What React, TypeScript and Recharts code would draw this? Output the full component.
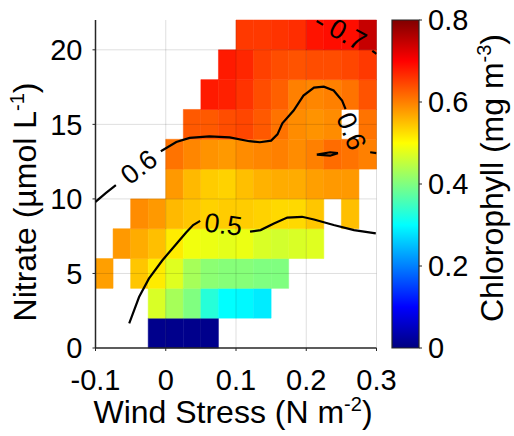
import React from 'react';
import { ComposedChart, Scatter, XAxis, YAxis, ReferenceArea, ReferenceLine } from 'recharts';

// left edges of the wind stress bins and bottom edges of the nitrate bins
const windBins = [-0.1, -0.075, -0.05, -0.025, 0, 0.025, 0.05, 0.075, 0.1, 0.125, 0.15, 0.175, 0.2, 0.225, 0.25, 0.275];
const nitrateBins = [0, 2, 4, 6, 8, 10, 12, 14, 16, 18, 20];
const binWidth = 0.025;
const binHeight = 2;

const _ = null;
// mean chlorophyll per cell, one row per nitrate bin (bottom to top)
const chlN0 = [_, _, _, 0.01, 0.01, 0.01, 0.01, _, _, _, _, _, _, _, _, _];
const chlN2 = [_, _, _, 0.47, 0.43, 0.4, 0.33, 0.3, 0.295, 0.285, _, _, _, _, _, _];
const chlN4 = [0.575, _, 0.545, 0.515, 0.475, 0.43, 0.41, 0.405, 0.405, 0.4, 0.4, _, _, _, _, _];
const chlN6 = [_, 0.58, 0.565, 0.55, 0.515, 0.49, 0.485, 0.48, 0.485, 0.47, 0.465, 0.47, 0.475, _, _, _];
const chlN8 = [_, _, 0.59, 0.58, 0.555, 0.545, 0.535, 0.54, 0.54, 0.535, 0.53, 0.53, 0.545, _, 0.55, _];
const chlN10 = [_, _, _, _, 0.58, 0.555, 0.54, 0.535, 0.55, 0.56, 0.565, 0.565, 0.575, 0.58, 0.58, _];
const chlN12 = [_, _, _, _, 0.61, 0.595, 0.585, 0.58, 0.59, 0.595, 0.6, 0.59, 0.6, 0.615, 0.61, 0.6];
const chlN14 = [_, _, _, _, _, 0.63, 0.63, 0.64, 0.645, 0.63, 0.61, 0.59, 0.585, 0.59, _, 0.61];
const chlN16 = [_, _, _, _, _, _, 0.68, 0.675, 0.66, 0.64, 0.625, 0.6, 0.595, 0.6, 0.61, 0.635];
const chlN18 = [_, _, _, _, _, _, _, 0.68, 0.67, 0.65, 0.64, 0.635, 0.64, 0.64, 0.645, 0.655];
const chlN20 = [_, _, _, _, _, _, _, _, 0.655, 0.655, 0.66, 0.665, 0.685, 0.69, 0.69, 0.745];
const chlorophyll = [chlN0, chlN2, chlN4, chlN6, chlN8, chlN10, chlN12, chlN14, chlN16, chlN18, chlN20];

// contour lines
const contour06Left = [{ x: -0.1, y: 9.8 }, { x: -0.085, y: 10.4 }, { x: -0.071, y: 10.93 }];
const contour06Main = [
  { x: -0.007, y: 13.2 }, { x: 0.015, y: 13.82 }, { x: 0.034, y: 14.09 }, { x: 0.062, y: 14.2 },
  { x: 0.091, y: 14.13 }, { x: 0.119, y: 13.87 }, { x: 0.134, y: 13.8 }, { x: 0.15, y: 13.91 },
  { x: 0.159, y: 14.33 }, { x: 0.166, y: 15.07 }, { x: 0.182, y: 15.93 }, { x: 0.196, y: 16.93 },
  { x: 0.211, y: 17.47 }, { x: 0.225, y: 17.53 }, { x: 0.239, y: 17.27 }, { x: 0.251, y: 16.6 },
  { x: 0.256, y: 16.02 },
];
const contour06Right = [{ x: 0.291, y: 13.13 }, { x: 0.3, y: 13.07 }];
const contour06Loop = [
  { x: 0.215, y: 12.97 }, { x: 0.234, y: 13.13 }, { x: 0.245, y: 13.07 }, { x: 0.234, y: 12.9 }, { x: 0.215, y: 12.97 },
];
const contour07Left = [{ x: 0.215, y: 21.93 }, { x: 0.224, y: 21.67 }];
const contour07Right = [{ x: 0.294, y: 19.93 }, { x: 0.3, y: 19.73 }];
const contour05Left = [
  { x: -0.052, y: 1.65 }, { x: -0.038, y: 3.42 }, { x: -0.024, y: 4.65 }, { x: -0.005, y: 5.87 },
  { x: 0.015, y: 6.98 }, { x: 0.029, y: 7.75 }, { x: 0.039, y: 8.25 }, { x: 0.049, y: 8.53 },
];
const contour05Right = [
  { x: 0.12, y: 7.8 }, { x: 0.135, y: 7.91 }, { x: 0.154, y: 8.35 }, { x: 0.173, y: 8.75 },
  { x: 0.194, y: 8.8 }, { x: 0.211, y: 8.62 }, { x: 0.239, y: 8.25 }, { x: 0.268, y: 7.91 },
  { x: 0.299, y: 7.69 },
];
const contours = [
  contour06Left, contour06Main, contour06Right, contour06Loop,
  contour07Left, contour07Right, contour05Left, contour05Right,
];
const contourLabels = [
  { x: -0.038, y: 12.13, text: '0.6', angle: -38 },
  { x: 0.264, y: 14.53, text: '0.6', angle: 68 },
  { x: 0.259, y: 21.0, text: '0.7', angle: 29 },
  { x: 0.082, y: 8.27, text: '0.5', angle: 7 },
];

const xTicks = [-0.1, 0, 0.1, 0.2, 0.3];
const yTicks = [0, 5, 10, 15, 20];
const cbTicks = [0, 0.2, 0.4, 0.6, 0.8];
// colour bar extent (x is a dummy 0-1 range)
const cbRange = [{ x: 0, y: 0 }, { x: 1, y: 0.8 }];

const FONT = '"Liberation Sans", Arial, sans-serif';
const AXIS = '#262626';

// MATLAB jet, 0 - 0.8 mg m-3
const jet = (v: number) => {
  const t = Math.min(1, Math.max(0, v / 0.8));
  const c = (k: number) => Math.round(255 * Math.min(1, Math.max(0, 1.5 - Math.abs(4 * t - k))));
  return `rgb(${c(3)},${c(2)},${c(1)})`;
};

const cells: { x1: number; x2: number; y1: number; y2: number; v: number }[] = [];
chlorophyll.forEach((row, j) => {
  row.forEach((v, i) => {
    if (v === null) return;
    cells.push({ x1: windBins[i], x2: windBins[i] + binWidth, y1: nitrateBins[j], y2: nitrateBins[j] + binHeight, v });
  });
});

const gradStops = Array.from({ length: 33 }, (_, i) => i / 32);

const App: React.FC = () => {
  return (
    <div style={{ position: 'absolute', left: 0, top: 0, width: 514, height: 436, background: '#fff', fontFamily: FONT }}>
      <div style={{ position: 'absolute', left: 0, top: 0 }}>
        <ComposedChart width={514} height={436} margin={{ top: 20, right: 137.5, bottom: 48, left: 35.5 }}>
          <XAxis
            dataKey="x"
            type="number"
            domain={[-0.1, 0.3]}
            ticks={xTicks}
            allowDataOverflow
            height={40}
            tickSize={3}
            tickMargin={18}
            tick={{ fill: '#000', fontSize: 29, fontFamily: FONT }}
            tickLine={{ stroke: AXIS }}
            axisLine={{ stroke: AXIS, strokeWidth: 1.5 }}
          />
          <YAxis
            dataKey="y"
            type="number"
            domain={[0, 22]}
            ticks={yTicks}
            allowDataOverflow
            width={60}
            tickSize={3}
            tickMargin={10}
            tick={{ fill: '#000', fontSize: 29, fontFamily: FONT }}
            tickLine={{ stroke: AXIS }}
            axisLine={{ stroke: AXIS, strokeWidth: 1.5 }}
          />
          {cells.map((c, k) => (
            <ReferenceArea
              key={`c${k}`}
              x1={c.x1}
              x2={c.x2}
              y1={c.y1}
              y2={c.y2}
              fill={jet(c.v)}
              fillOpacity={1}
              stroke={jet(c.v)}
              strokeWidth={0.5}
            />
          ))}
          {xTicks.slice(1).map((t) => (
            <ReferenceLine key={`gx${t}`} x={t} stroke="#000" strokeOpacity={0.13} strokeWidth={1} />
          ))}
          {yTicks.slice(1).map((t) => (
            <ReferenceLine key={`gy${t}`} y={t} stroke="#000" strokeOpacity={0.13} strokeWidth={1} />
          ))}
          {contours.map((line, k) => (
            <Scatter
              key={`l${k}`}
              data={line}
              line={{ stroke: '#000', strokeWidth: 2.2 }}
              lineType="joint"
              shape={() => <g />}
              isAnimationActive={false}
            />
          ))}
          <Scatter
            data={contourLabels}
            isAnimationActive={false}
            shape={(p: any) => (
              <text
                x={p.cx}
                y={p.cy}
                textAnchor="middle"
                dominantBaseline="central"
                fontSize={27}
                fontFamily={FONT}
                fill="#000"
                transform={`rotate(${p.payload.angle} ${p.cx} ${p.cy})`}
              >
                {p.payload.text}
              </text>
            )}
          />
          <text x={233} y={423} textAnchor="middle" fontSize={32} fontFamily={FONT} fill="#000">
            Wind Stress (N m<tspan dy={-12} fontSize={20}>-2</tspan><tspan dy={12}>)</tspan>
          </text>
          <text
            x={0}
            y={0}
            textAnchor="middle"
            fontSize={32}
            fontFamily={FONT}
            fill="#000"
            transform="translate(36 202) rotate(-90)"
          >
            Nitrate (µmol L<tspan dy={-12} fontSize={20}>-1</tspan><tspan dy={12}>)</tspan>
          </text>
        </ComposedChart>
      </div>
      <div style={{ position: 'absolute', left: 0, top: 0 }}>
        <ComposedChart width={514} height={436} margin={{ top: 20, right: 45, bottom: 88, left: 392 }}>
          <defs>
            <linearGradient id="jetGrad" x1="0" y1="0" x2="0" y2="1">
              {gradStops.map((s) => (
                <stop key={s} offset={`${s * 100}%`} stopColor={jet(0.8 * (1 - s))} />
              ))}
            </linearGradient>
          </defs>
          <XAxis type="number" dataKey="x" domain={[0, 1]} hide />
          <YAxis
            type="number"
            dataKey="y"
            orientation="right"
            domain={[0, 0.8]}
            ticks={cbTicks}
            width={50}
            tickSize={3}
            tickMargin={6}
            tick={{ fill: '#000', fontSize: 29, fontFamily: FONT }}
            tickLine={{ stroke: AXIS }}
            axisLine={false}
          />
          <Scatter data={cbRange} shape={() => <g />} isAnimationActive={false} />
          <ReferenceArea x1={0} x2={1} y1={0} y2={0.8} fill="url(#jetGrad)" fillOpacity={1} stroke={AXIS} strokeWidth={1.2} />
          <text
            x={0}
            y={0}
            textAnchor="middle"
            fontSize={32}
            fontFamily={FONT}
            fill="#000"
            transform="translate(503 178) rotate(-90)"
          >
            Chlorophyll (mg m<tspan dy={-12} fontSize={20}>-3</tspan><tspan dy={12}>)</tspan>
          </text>
        </ComposedChart>
      </div>
    </div>
  );
};

export default App;
